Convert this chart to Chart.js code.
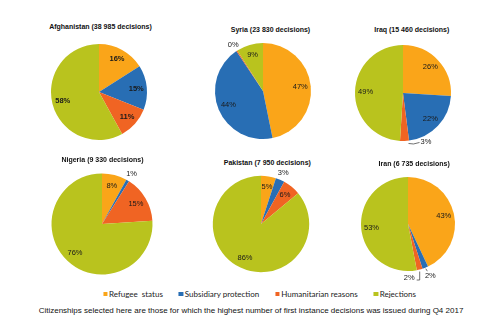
<!DOCTYPE html>
<html>
<head>
<meta charset="utf-8">
<script src="https://cdn.jsdelivr.net/npm/chart.js@4.4.1/dist/chart.umd.min.js"></script>
<style>
  body { margin: 0; background: #fff; }
  #wrap { position: relative; width: 500px; height: 336px; overflow: hidden;
          font-family: "Liberation Sans", Arial, sans-serif; color: #000; }
  .pie { position: absolute; }
  .ttl { position: absolute; font-weight: bold; font-size: 7px; white-space: nowrap;
         transform: translate(-50%, -50%); color: #111; }
  #legend { position: absolute; left: 259.5px; top: 294px; transform: translate(-50%, -50%);
            display: flex; gap: 16px; font-family: Lato, "Liberation Sans", sans-serif;
            font-size: 8px; white-space: pre; color: #222; }
  #legend span { display: flex; align-items: center; }
  #legend i { display: inline-block; width: 4.5px; height: 4.5px; margin-right: 1.5px; }
  #note { position: absolute; left: 251px; top: 310px; transform: translate(-50%, -50%);
          font-size: 8px; white-space: nowrap; color: #111; }
</style>
</head>
<body>
<div id="wrap">
  <div id="legend"></div>
  <div id="note">Citizenships selected here are those for which the highest number of first instance decisions was issued during Q4 2017</div>
</div>
<script>
// decision outcomes, share in % of first instance decisions
const categories = ['Refugee  status', 'Subsidiary protection', 'Humanitarian reasons', 'Rejections'];
const colors = ['#FAA519', '#286EB4', '#F06423', '#B9C31E'];

const countries = ['Afghanistan', 'Syria', 'Iraq', 'Nigeria', 'Pakistan', 'Iran'];
const decisions = ['38 985', '23 830', '15 460', '9 330', '7 950', '6 735'];

const afghanistan = [16, 15, 11, 58];
const syria = [47, 44, 0.4, 9];
const iraq = [26, 22, 3, 49];
const nigeria = [8, 1, 15, 76];
const pakistan = [5, 3, 6, 86];
const iran = [43, 2, 2, 53];

const shares = [afghanistan, syria, iraq, nigeria, pakistan, iran];

// where each pie sits on the page and how its labels are placed
const layout = [
  { cx: 98.5,  cy: 91.7, r: 48,   tx: 100.5, ty: 26,    bold: true,  outside: {} },
  { cx: 263.3, cy: 91.3, r: 48,   tx: 270.5, ty: 29.3,  bold: false, outside: { 2: { dist: 1.14 } } },
  { cx: 402.6, cy: 92.8, r: 48,   tx: 411.8, ty: 28.7,  bold: false,
    outside: { 2: { path: [[4, 2.5], [9, 3], [15, 1.5]], at: [16, 1], align: 'left' } } },
  { cx: 102,   cy: 224,  r: 50.5, tx: 102.5, ty: 159.3, bold: false, outside: { 1: { dist: 1.15 } } },
  { cx: 261,   cy: 224,  r: 48.2, tx: 267.3, ty: 162.3, bold: false, outside: { 1: { dist: 1.16 } } },
  { cx: 407.8, cy: 224,  r: 47,   tx: 414.2, ty: 163.3, bold: false,
    outside: {
      1: { path: [[0.5, 1], [2, 3.5]], at: [5, 8.3], align: 'center' },
      2: { path: [[0, 2], [0, 10.5], [-3, 10.5]], at: [-5, 8.2], align: 'right' }
    } }
];

const CW = 150, CH = 130;

const pctLabels = {
  id: 'pctLabels',
  afterDatasetsDraw(chart, args, opts) {
    const ctx = chart.ctx;
    const values = chart.data.datasets[0].data;
    ctx.save();
    ctx.font = (opts.bold ? 'bold ' : '') + '7.5px "Liberation Sans", Arial, sans-serif';
    ctx.fillStyle = '#1a1a1a';
    ctx.strokeStyle = '#333';
    ctx.lineWidth = 0.7;
    ctx.textBaseline = 'middle';
    chart.getDatasetMeta(0).data.forEach((arc, i) => {
      const p = arc.getProps(['x', 'y', 'startAngle', 'endAngle', 'outerRadius'], true);
      const mid = (p.startAngle + p.endAngle) / 2;
      const text = Math.round(values[i]) + '%';
      const out = opts.outside[i];
      if (!out) {
        ctx.textAlign = 'center';
        const d = p.outerRadius * 0.78;
        ctx.fillText(text, p.x + Math.cos(mid) * d, p.y + Math.sin(mid) * d);
        return;
      }
      if (out.dist) {
        ctx.textAlign = 'center';
        const d = p.outerRadius * out.dist;
        ctx.fillText(text, p.x + Math.cos(mid) * d, p.y + Math.sin(mid) * d);
        return;
      }
      // leader line from the edge of the slice
      const ex = p.x + Math.cos(mid) * p.outerRadius;
      const ey = p.y + Math.sin(mid) * p.outerRadius;
      ctx.beginPath();
      ctx.moveTo(ex + out.path[0][0], ey + out.path[0][1]);
      out.path.slice(1).forEach(q => ctx.lineTo(ex + q[0], ey + q[1]));
      ctx.stroke();
      ctx.textAlign = out.align;
      ctx.fillText(text, ex + out.at[0], ey + out.at[1]);
    });
    ctx.restore();
  }
};

const wrap = document.getElementById('wrap');

countries.forEach((name, k) => {
  const L = layout[k];
  const t = document.createElement('div');
  t.className = 'ttl';
  t.style.left = L.tx + 'px';
  t.style.top = L.ty + 'px';
  t.textContent = name + ' (' + decisions[k] + ' decisions)';
  wrap.appendChild(t);

  const c = document.createElement('canvas');
  c.className = 'pie';
  c.width = CW;
  c.height = CH;
  c.style.left = (L.cx - CW / 2) + 'px';
  c.style.top = (L.cy - CH / 2) + 'px';
  c.style.width = CW + 'px';
  c.style.height = CH + 'px';
  wrap.appendChild(c);

  new Chart(c, {
    type: 'pie',
    data: {
      labels: categories,
      datasets: [{
        data: shares[k],
        backgroundColor: colors,
        borderWidth: 0,
        radius: L.r
      }]
    },
    options: {
      responsive: false,
      animation: false,
      events: [],
      layout: { padding: 0 },
      plugins: {
        legend: { display: false },
        tooltip: { enabled: false },
        pctLabels: { bold: L.bold, outside: L.outside }
      }
    },
    plugins: [pctLabels]
  });
});

const legend = document.getElementById('legend');
categories.forEach((cat, i) => {
  const s = document.createElement('span');
  s.innerHTML = '<i style="background:' + colors[i] + '"></i>' + cat;
  legend.appendChild(s);
});
</script>
</body>
</html>
